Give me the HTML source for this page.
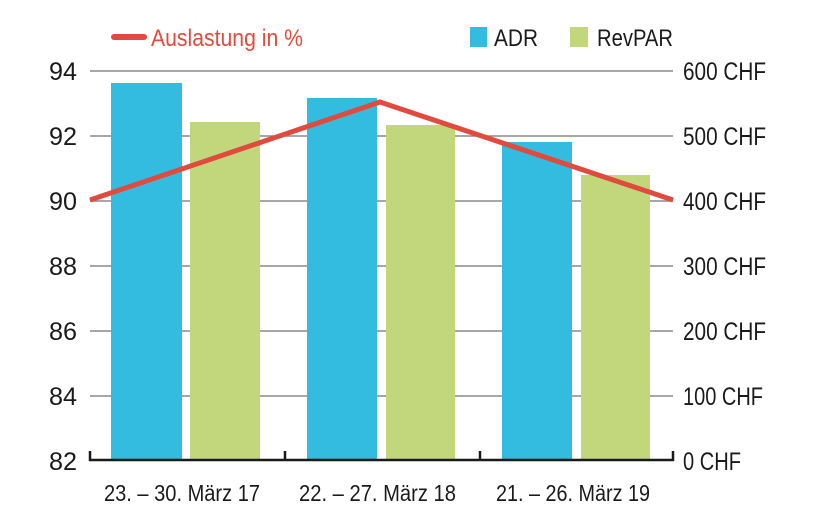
<!DOCTYPE html>
<html><head><meta charset="utf-8"><style>
html,body{margin:0;padding:0;background:#fff}
svg{display:block}
text{font-family:"Liberation Sans Narrow","Liberation Sans",sans-serif;fill:#1a1a1a}
</style></head><body>
<svg width="820" height="513" viewBox="0 0 820 513">
<g stroke="#8a8a8a" stroke-width="1.5">
<line x1="90" y1="71" x2="673" y2="71"/>
<line x1="90" y1="136" x2="673" y2="136"/>
<line x1="90" y1="201" x2="673" y2="201"/>
<line x1="90" y1="266" x2="673" y2="266"/>
<line x1="90" y1="331" x2="673" y2="331"/>
<line x1="90" y1="396" x2="673" y2="396"/>
</g>
<rect x="111" y="83" width="71" height="377" fill="#33bbe0"/>
<rect x="190" y="122" width="70" height="338" fill="#c2d67c"/>
<rect x="307" y="98" width="70" height="362" fill="#33bbe0"/>
<rect x="386" y="125" width="69" height="335" fill="#c2d67c"/>
<rect x="502" y="142" width="70" height="318" fill="#33bbe0"/>
<rect x="581" y="175" width="69" height="285" fill="#c2d67c"/>
<polyline points="90,200 380,102 673,200" fill="none" stroke="#e04b3e" stroke-width="5"/>
<g stroke="#1a1a1a" stroke-width="2.5" fill="none">
<line x1="89" y1="460" x2="674" y2="460"/>
<line x1="90" y1="451" x2="90" y2="461"/>
<line x1="285" y1="451" x2="285" y2="461"/>
<line x1="480" y1="451" x2="480" y2="461"/>
<line x1="673" y1="451" x2="673" y2="461"/>
</g>
<g font-size="25" text-anchor="end">
<text x="77" y="80" textLength="28" lengthAdjust="spacingAndGlyphs">94</text>
<text x="77" y="145" textLength="28" lengthAdjust="spacingAndGlyphs">92</text>
<text x="77" y="210" textLength="28" lengthAdjust="spacingAndGlyphs">90</text>
<text x="77" y="275" textLength="28" lengthAdjust="spacingAndGlyphs">88</text>
<text x="77" y="340" textLength="28" lengthAdjust="spacingAndGlyphs">86</text>
<text x="77" y="405" textLength="28" lengthAdjust="spacingAndGlyphs">84</text>
<text x="77" y="470" textLength="28" lengthAdjust="spacingAndGlyphs">82</text>
</g>
<g font-size="25">
<text x="683" y="80" textLength="83" lengthAdjust="spacingAndGlyphs">600 CHF</text>
<text x="683" y="145" textLength="83" lengthAdjust="spacingAndGlyphs">500 CHF</text>
<text x="683" y="210" textLength="83" lengthAdjust="spacingAndGlyphs">400 CHF</text>
<text x="683" y="275" textLength="83" lengthAdjust="spacingAndGlyphs">300 CHF</text>
<text x="683" y="340" textLength="83" lengthAdjust="spacingAndGlyphs">200 CHF</text>
<text x="683" y="405" textLength="80" lengthAdjust="spacingAndGlyphs">100 CHF</text>
<text x="683" y="470" textLength="58" lengthAdjust="spacingAndGlyphs">0 CHF</text>
</g>
<g font-size="23">
<text x="104" y="501" textLength="156" lengthAdjust="spacingAndGlyphs">23. – 30. März 17</text>
<text x="299" y="501" textLength="157" lengthAdjust="spacingAndGlyphs">22. – 27. März 18</text>
<text x="496" y="501" textLength="154" lengthAdjust="spacingAndGlyphs">21. – 26. März 19</text>
</g>
<line x1="114" y1="37" x2="144" y2="37" stroke="#e04b3e" stroke-width="6" stroke-linecap="round"/>
<text x="151" y="46" font-size="24" textLength="152" lengthAdjust="spacingAndGlyphs" style="fill:#e04b3e">Auslastung in %</text>
<rect x="470" y="27" width="17" height="20" fill="#33bbe0"/>
<text x="494" y="46" font-size="24" textLength="44" lengthAdjust="spacingAndGlyphs">ADR</text>
<rect x="570" y="27" width="18" height="20" fill="#c2d67c"/>
<text x="597" y="46" font-size="24" textLength="76" lengthAdjust="spacingAndGlyphs">RevPAR</text>
</svg>
</body></html>
